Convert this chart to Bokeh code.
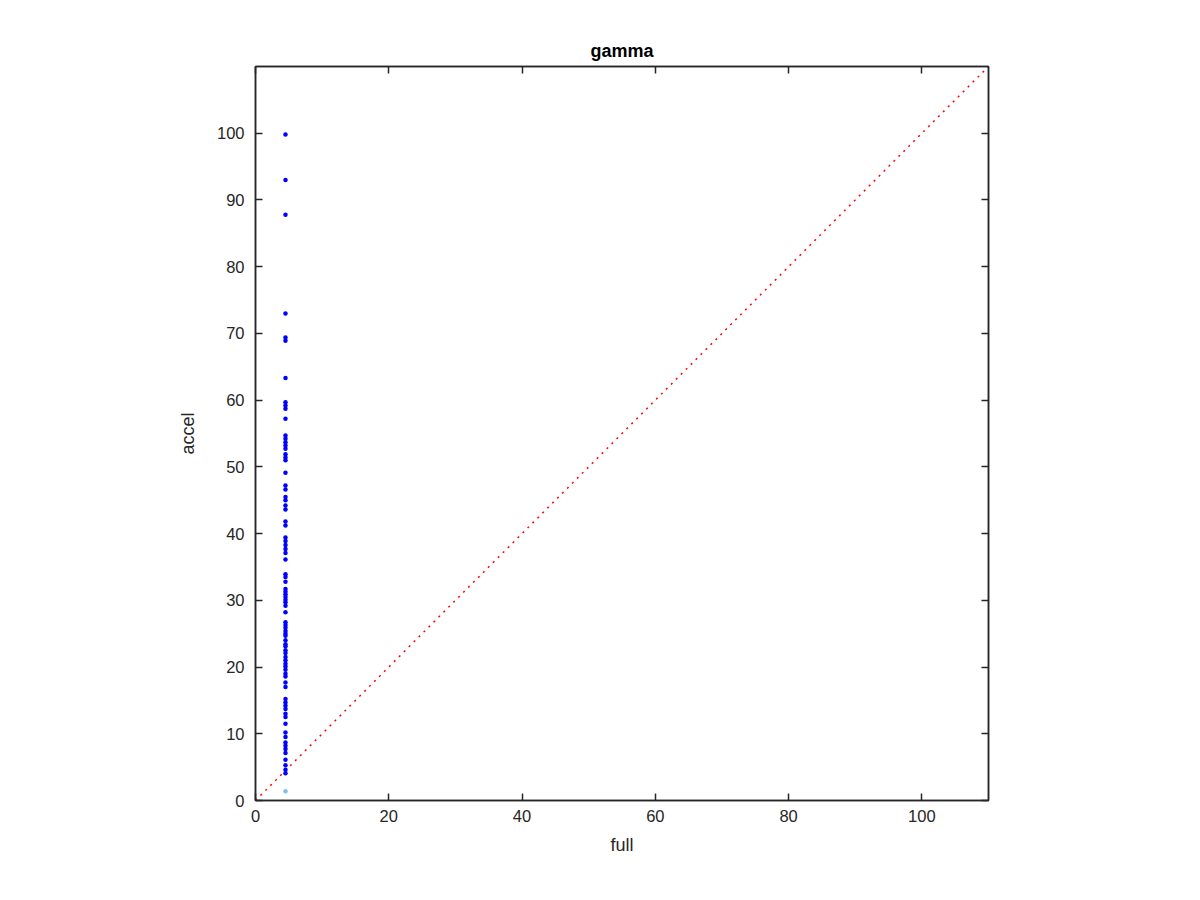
from bokeh.plotting import figure
from bokeh.models import LinearAxis, Range1d, FixedTicker
from bokeh.embed import file_html
from bokeh.resources import INLINE

# data
full_blue = 4.5
accel_blue = [99.8, 93.0, 87.8, 73.0, 69.4, 68.9, 63.3, 59.7, 59.2, 58.7, 57.2,
              54.7, 54.2, 53.7, 53.2, 52.7, 51.9, 51.4, 51.0, 49.1, 47.2, 46.6,
              45.5, 45.0, 44.2, 43.6, 41.8, 41.2, 39.4, 38.9, 38.3, 37.7, 37.1,
              36.1, 33.9, 33.5, 32.8, 31.7, 31.3, 30.9, 30.5, 30.1, 29.7, 29.2,
              28.2, 26.7, 26.3, 25.9, 25.4, 25.0, 24.7, 24.0, 23.4, 23.1, 22.5,
              22.1, 21.5, 21.0, 20.5, 20.1, 19.6, 19.0, 18.6, 17.7, 17.0, 15.2,
              14.7, 14.2, 13.7, 13.0, 12.5, 11.5, 10.2, 9.5, 8.7, 8.2, 7.7, 7.1,
              6.1, 5.3, 4.6, 4.1]
full_light = [4.5]
accel_light = [1.4]
diag = [0, 110]
x_ticks = [0, 20, 40, 60, 80, 100]
y_ticks = [0, 10, 20, 30, 40, 50, 60, 70, 80, 90, 100]

FONT = "Liberation Sans"
INK = "#262626"

p = figure(width=1184, height=884, output_backend="svg", toolbar_location=None,
           x_range=Range1d(0, 110), y_range=Range1d(0, 110),
           min_border_left=255, min_border_right=196, min_border_top=66,
           min_border_bottom=84, title="gamma")
p.title.align = "center"
p.title.text_font = FONT
p.title.text_font_size = "18px"
p.title.text_font_style = "bold"
p.title.text_color = "#000000"
p.title.standoff = 12
p.xgrid.visible = False
p.ygrid.visible = False
p.outline_line_color = INK
p.outline_line_width = 1.5

def style(ax, ticks, labels=True):
    ax.ticker = FixedTicker(ticks=ticks)
    ax.major_tick_in = 7
    ax.major_tick_out = 0
    ax.minor_tick_in = 0
    ax.minor_tick_out = 0
    ax.axis_line_color = INK
    ax.axis_line_width = 1.5
    ax.major_tick_line_color = INK
    ax.major_tick_line_width = 1.5
    ax.major_label_text_font = FONT
    ax.major_label_text_font_size = "16.5px"
    ax.major_label_text_color = INK
    ax.axis_label_text_font = FONT
    ax.axis_label_text_font_size = "18px"
    ax.axis_label_text_font_style = "normal"
    ax.axis_label_text_color = INK
    if not labels:
        ax.major_label_text_font_size = "0px"
        ax.major_label_text_alpha = 0

style(p.xaxis[0], x_ticks)
style(p.yaxis[0], y_ticks)
p.xaxis[0].axis_label = "full"
p.yaxis[0].axis_label = "accel"
p.xaxis[0].major_label_standoff = 9
p.yaxis[0].major_label_standoff = 11
p.xaxis[0].axis_label_standoff = 10
p.yaxis[0].axis_label_standoff = 16

top = LinearAxis()
style(top, x_ticks, labels=False)
p.add_layout(top, "above")
right = LinearAxis()
style(right, y_ticks, labels=False)
p.add_layout(right, "right")

p.line(diag, diag, line_color="#ff0000", line_width=1.5, line_dash="2 5")
p.scatter([full_blue] * len(accel_blue), accel_blue, size=4.5,
          fill_color="#0000ff", line_color=None)
p.scatter(full_light, accel_light, size=4.5, fill_color="#80c0f0", line_color=None)

open("out.html", "w").write(file_html(p, INLINE))
